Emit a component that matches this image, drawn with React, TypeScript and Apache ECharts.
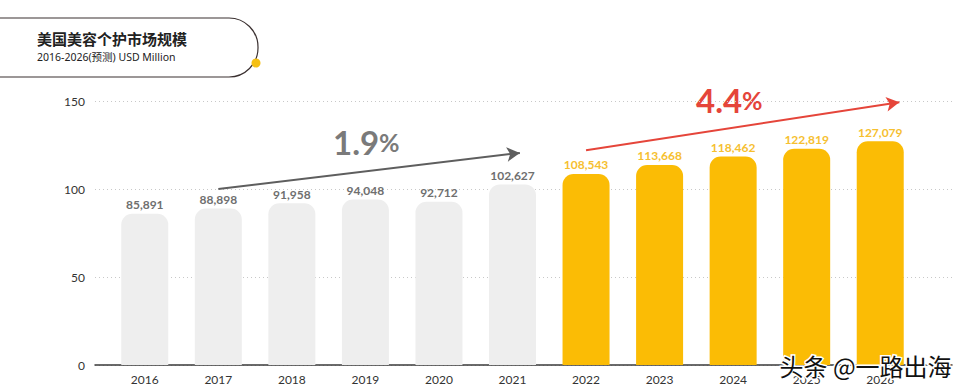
import React, { useEffect, useRef } from "react";
import * as echarts from "echarts";

const years = ["2016", "2017", "2018", "2019", "2020", "2021", "2022", "2023", "2024", "2025", "2026"];
const marketSize = [85891, 88898, 91958, 94048, 92712, 102627, 108543, 113668, 118462, 122819, 127079];
const forecastFrom = 6; // index of first forecast year (2022)
const yTicks = [0, 50, 100, 150];
const histCagr = "1.9";
const forecastCagr = "4.4";

const GRAY_BAR = "#eeeeee";
const YELLOW = "#fbbc05";
const GRAY_LABEL = "#6f6f6f";
const YELLOW_LABEL = "#f6c030";
const RED = "#e5453a";
const FONT = "Lato, 'Noto Sans', sans-serif";

export default function App() {
  const ref = useRef<HTMLDivElement>(null);
  useEffect(() => {
    if (!ref.current) return;
    const chart = echarts.init(ref.current, null, { renderer: "svg" });
    const maxV = yTicks[yTicks.length - 1] * 1000;
    const data = marketSize.map((v, i) => ({
      value: v,
      itemStyle: { color: i >= forecastFrom ? YELLOW : GRAY_BAR },
      label: { color: i >= forecastFrom ? YELLOW_LABEL : GRAY_LABEL },
    }));
    chart.setOption({
      animation: false,
      textStyle: { fontFamily: FONT },
      grid: [
        { left: 95, right: 20, top: 101, bottom: 23 },
        { left: 108, right: 55, top: 101, bottom: 23 },
      ],
      xAxis: [
        {
          type: "category",
          gridIndex: 0,
          data: years,
          axisLine: { show: true, lineStyle: { color: "#3a3a3a", width: 1.5 } },
          axisTick: { show: false },
          axisLabel: { show: false },
        },
        {
          type: "category",
          gridIndex: 1,
          data: years,
          axisLine: { show: false },
          axisTick: { show: false },
          axisLabel: { color: "#333", fontSize: 12, margin: 8, fontFamily: FONT },
        },
        {
          type: "value",
          gridIndex: 1,
          min: -0.5,
          max: years.length - 0.5,
          show: false,
          splitLine: { show: false },
        },
      ],
      yAxis: [
        {
          type: "value",
          gridIndex: 0,
          min: 0,
          max: maxV,
          interval: 50000,
          axisLine: { show: false },
          axisTick: { show: false },
          axisLabel: {
            color: "#333",
            fontSize: 12,
            margin: 10,
            fontFamily: FONT,
            formatter: (v: number) => String(v / 1000),
          },
          splitLine: { show: true, lineStyle: { color: "#c8c8c8", type: [1, 3], width: 1 } },
        },
        {
          type: "value",
          gridIndex: 1,
          min: 0,
          max: maxV,
          interval: 50000,
          show: false,
          splitLine: { show: false },
        },
      ],
      series: [
        {
          type: "bar",
          xAxisIndex: 1,
          yAxisIndex: 1,
          data,
          barWidth: 47,
          itemStyle: { borderRadius: [11, 11, 0, 0] },
          label: {
            show: true,
            position: "top",
            distance: 3,
            fontSize: 12,
            fontWeight: "bold",
            fontFamily: FONT,
            formatter: (p: any) => Number(p.value).toLocaleString("en-US"),
          },
        },
        {
          type: "scatter",
          xAxisIndex: 2,
          yAxisIndex: 1,
          data: [],
          silent: true,
          markLine: {
            silent: true,
            symbol: ["none", "arrow"],
            symbolSize: [11, 13],
            label: { show: false },
            data: [
              [
                { coord: [1, 100000], lineStyle: { color: "#5e5e5e", width: 2, type: "solid" } },
                { coord: [5.1, 120500] },
              ],
              [
                { coord: [6, 122000], lineStyle: { color: RED, width: 2, type: "solid" } },
                { coord: [10.26, 149300] },
              ],
            ],
          },
        },
      ],
      graphic: [
        {
          type: "rect",
          shape: { x: -40, y: 18, width: 298, height: 59, r: 29 },
          style: { fill: "#fff", stroke: "#3a3030", lineWidth: 1.2 },
        },
        { type: "circle", shape: { cx: 256, cy: 63, r: 4.5 }, style: { fill: "#f5c014" } },
        {
          type: "text",
          left: 37,
          top: 31,
          style: {
            text: "美国美容个护市场规模",
            font: "bold 15px 'Noto Sans CJK SC', sans-serif",
            fill: "#222",
          },
        },
        {
          type: "text",
          left: 37,
          top: 52,
          style: {
            text: "2016-2026(预测) USD Million",
            font: "10.5px 'Noto Sans', 'Noto Sans CJK SC', sans-serif",
            fill: "#222",
          },
        },
        {
          type: "text",
          left: 333,
          top: 125,
          style: {
            text: "{n|" + histCagr + "}{p|%}",
            rich: {
              n: { font: "bold 33px Lato, sans-serif", fill: "#7a7a7a" },
              p: { font: "bold 25px Lato, sans-serif", fill: "#7a7a7a" },
            },
          },
        },
        {
          type: "text",
          left: 696,
          top: 83,
          style: {
            text: "{n|" + forecastCagr + "}{p|%}",
            rich: {
              n: { font: "bold 33px Lato, sans-serif", fill: RED },
              p: { font: "bold 25px Lato, sans-serif", fill: RED },
            },
          },
        },
        {
          type: "text",
          left: 778,
          top: 352,
          z: 100,
          style: {
            text: "头条 @一路出海",
            font: "24px 'Noto Sans CJK SC', sans-serif",
            fill: "#111",
            stroke: "#fff",
            lineWidth: 3,
          },
        },
      ],
    });
    return () => chart.dispose();
  }, []);
  return (
    <div
      ref={ref}
      style={{ position: "fixed", left: 0, top: 0, width: 972, height: 388, background: "#fff" }}
    />
  );
}
